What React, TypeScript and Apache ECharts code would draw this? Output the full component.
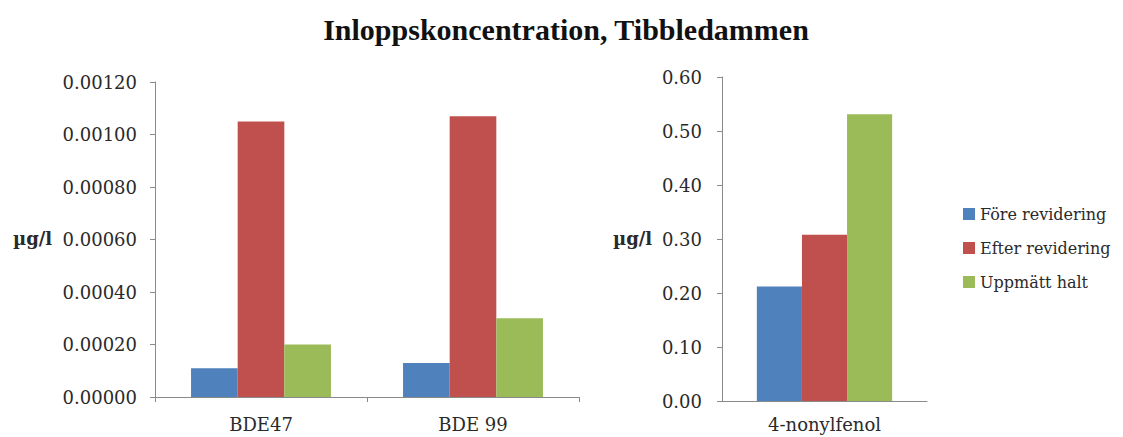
import React, { useEffect, useRef } from "react";
import * as echarts from "echarts";

const title = "Inloppskoncentration, Tibbledammen";
const unit = "µg/l";
const seriesNames = ["Före revidering", "Efter revidering", "Uppmätt halt"];
const colors = ["#4F81BD", "#C0504D", "#9BBB59"];

const bdeCategories = ["BDE47", "BDE 99"];
const bdeFore = [0.00011, 0.00013];
const bdeEfter = [0.00105, 0.00107];
const bdeUppmatt = [0.0002, 0.0003];

const npCategories = ["4-nonylfenol"];
const npFore = [0.212];
const npEfter = [0.308];
const npUppmatt = [0.531];

const FONT = "DejaVu Serif";
const TITLE_FONT = "Liberation Serif";
const AXIS_COLOR = "#8a8a8a";
const TEXT_COLOR = "#2a2a2a";

export default function App() {
  const ref = useRef<HTMLDivElement>(null);
  useEffect(() => {
    if (!ref.current) return;
    const chart = echarts.init(ref.current, undefined, { renderer: "svg" });
    const axisCommonX = {
      type: "category" as const,
      axisLine: { lineStyle: { color: AXIS_COLOR, width: 1 } },
      axisTick: { show: true, length: 5, lineStyle: { color: AXIS_COLOR } },
    };
    const yLabel = { fontFamily: FONT, fontSize: 18, color: TEXT_COLOR, margin: 18 };
    const axisCommonY = {
      type: "value" as const,
      axisLine: { show: true, lineStyle: { color: AXIS_COLOR, width: 1 } },
      axisTick: { show: true, length: 5, lineStyle: { color: AXIS_COLOR } },
      splitLine: { show: false },
    };
    const bar = (name: string, data: number[], color: string, idx: number) => ({
      name,
      type: "bar" as const,
      data,
      xAxisIndex: idx,
      yAxisIndex: idx,
      barGap: "0%",
      barCategoryGap: "34%",
      itemStyle: { color },
    });
    chart.setOption({
      animation: false,
      backgroundColor: "#ffffff",
      textStyle: { fontFamily: FONT },
      title: {
        text: title,
        left: 561,
        textAlign: "center",
        top: 9,
        textStyle: { fontFamily: TITLE_FONT, fontSize: 30, fontWeight: "bold", color: "#111" },
      },
      legend: {
        orient: "vertical",
        left: 958,
        top: 201,
        itemWidth: 12,
        itemHeight: 12,
        itemGap: 18,
        icon: "rect",
        data: seriesNames,
        textStyle: { fontFamily: FONT, fontSize: 16, color: TEXT_COLOR },
      },
      grid: [
        { left: 155, right: 544, top: 82, bottom: 40 },
        { left: 722, right: 196, top: 77, bottom: 36 },
      ],
      xAxis: [
        {
          ...axisCommonX,
          gridIndex: 0,
          data: bdeCategories,
          axisLabel: { fontFamily: FONT, fontSize: 18, color: TEXT_COLOR, margin: 18 },
        },
        {
          ...axisCommonX,
          gridIndex: 1,
          data: npCategories,
          axisTick: { show: false },
          axisLabel: { fontFamily: FONT, fontSize: 18, color: TEXT_COLOR, margin: 14 },
        },
      ],
      yAxis: [
        {
          ...axisCommonY,
          gridIndex: 0,
          min: 0,
          max: 0.0012,
          interval: 0.0002,
          axisLabel: { ...yLabel, formatter: (v: number) => v.toFixed(5) },
        },
        {
          ...axisCommonY,
          gridIndex: 1,
          min: 0,
          max: 0.6,
          interval: 0.1,
          axisLabel: { ...yLabel, margin: 20, formatter: (v: number) => v.toFixed(2) },
        },
      ],
      graphic: [
        {
          type: "text",
          left: 13,
          top: 229,
          style: { text: unit, font: `bold 18px ${FONT}`, fill: TEXT_COLOR },
        },
        {
          type: "text",
          left: 613,
          top: 229,
          style: { text: unit, font: `bold 18px ${FONT}`, fill: TEXT_COLOR },
        },
      ],
      series: [
        bar(seriesNames[0], bdeFore, colors[0], 0),
        bar(seriesNames[1], bdeEfter, colors[1], 0),
        bar(seriesNames[2], bdeUppmatt, colors[2], 0),
        bar(seriesNames[0], npFore, colors[0], 1),
        bar(seriesNames[1], npEfter, colors[1], 1),
        bar(seriesNames[2], npUppmatt, colors[2], 1),
      ],
    });
    return () => chart.dispose();
  }, []);
  return (
    <div
      ref={ref}
      style={{ position: "fixed", left: 0, top: 0, width: 1123, height: 437, background: "#fff" }}
    />
  );
}
